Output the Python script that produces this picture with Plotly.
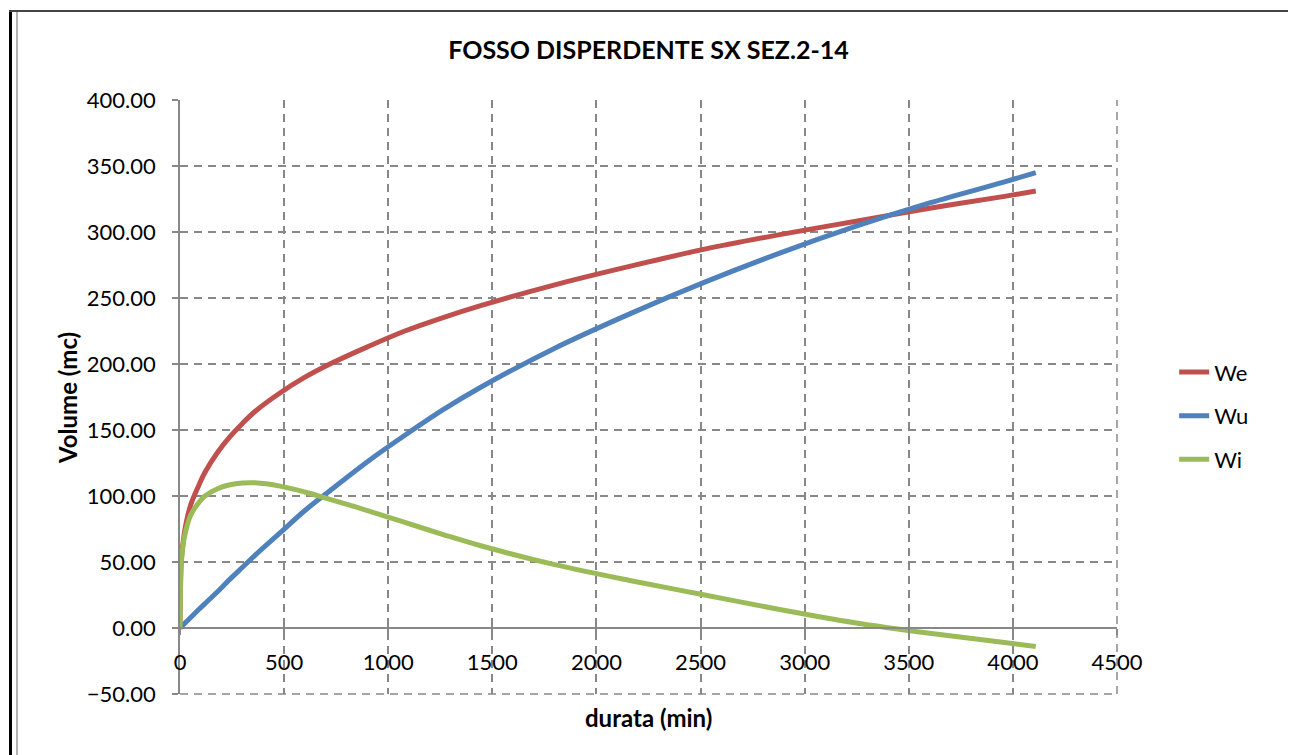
import plotly.graph_objects as go

# ---- data ----
durata = [0, 5, 10, 15, 20, 30, 45, 60, 90, 120, 180, 240, 300, 360, 480, 600, 720,
          900, 1080, 1260, 1440, 1800, 2160, 2520, 2880, 3240, 3600, 3960, 4110]
We = [0, 47, 58, 65, 71, 80, 90, 97, 108, 118, 133, 145, 155, 164, 178, 190, 200,
      213, 225, 235, 244, 260, 274, 287, 298, 308, 318, 327, 331]
Wu = [0, 0.8, 1.6, 2.3, 3.1, 4.7, 7, 9.3, 14, 18.5, 27.5, 37, 46, 55, 72, 89, 104,
      126, 146, 165, 182, 212, 238, 262, 284, 304, 322, 338, 345]
Wi = [0, 46, 56, 63, 68, 75, 83, 88, 95, 100, 105.5, 108.5, 109.8, 110, 107.5, 103, 97.5,
      89, 80, 71, 62.5, 48, 36, 25, 14, 4, -4, -11, -14]

series_names = ["We", "Wu", "Wi"]
series_values = [We, Wu, Wi]
series_colors = ["#C0504D", "#4F81BD", "#9BBB59"]

x_ticks = [0, 500, 1000, 1500, 2000, 2500, 3000, 3500, 4000, 4500]
y_ticks = [-50, 0, 50, 100, 150, 200, 250, 300, 350, 400]

title_text = "FOSSO DISPERDENTE SX SEZ.2-14"
x_title = "durata (min)"
y_title = "Volume (mc)"

FONT = "Lato, Carlito, Calibri, sans-serif"
GRID = "#888888"

# the page has an 8px body margin; the figure is sized to fit the window
W, H = 1288, 747
OFF = 8
PL, PR, PT, PB = 180, 1117, 100, 694   # plot area in window pixels


def px(x):
    return (x - PL) / (PR - PL)


def py(y):
    return (PB - y) / (PB - PT)


fig = go.Figure()
for name, vals, col in zip(series_names, series_values, series_colors):
    fig.add_trace(go.Scatter(x=durata, y=vals, name=name, mode="lines",
                             line=dict(color=col, width=5, shape="spline"),
                             legendgroup=name))
# invisible trace to carry the overlay axis (inner halves of the x tick marks)
fig.add_trace(go.Scatter(x=[None], y=[None], xaxis="x2", showlegend=False,
                         hoverinfo="skip"))

ymin, ymax = y_ticks[0], y_ticks[-1]
zero_pos = (0 - ymin) / (ymax - ymin)

fig.update_layout(
    width=W, height=H,
    paper_bgcolor="white", plot_bgcolor="white",
    margin=dict(l=PL - OFF, r=W - (PR - OFF), t=PT - OFF, b=H - (PB - OFF)),
    font=dict(family=FONT, size=22, color="#000000"),
    title=dict(text="<b>" + title_text + "</b>", x=0.5, xref="paper",
               y=1 - (50 - OFF) / H, yanchor="middle",
               font=dict(family=FONT, size=25, color="#000000")),
    showlegend=True,
    legend=dict(x=1.061, y=0.577, xanchor="left", yanchor="top",
                font=dict(family=FONT, size=22), tracegroupgap=12,
                bgcolor="rgba(0,0,0,0)"),
    xaxis=dict(range=[x_ticks[0], x_ticks[-1]], tickvals=x_ticks,
               ticktext=[str(v) for v in x_ticks],
               anchor="free", position=zero_pos,
               showline=True, linecolor=GRID, linewidth=1.5,
               ticks="outside", ticklen=6, tickwidth=1.5, tickcolor=GRID,
               ticklabelstandoff=9,
               showgrid=True, gridcolor=GRID, gridwidth=1.5, griddash="8px,6px",
               zeroline=False, tickfont=dict(size=22)),
    xaxis2=dict(range=[x_ticks[0], x_ticks[-1]], tickvals=x_ticks,
                overlaying="x", anchor="free", position=zero_pos,
                showline=False, ticks="inside", ticklen=6, tickwidth=1.5,
                tickcolor=GRID, showticklabels=False, showgrid=False,
                zeroline=False),
    yaxis=dict(range=[ymin, ymax], tickvals=y_ticks,
               tickformat=".2f",
               showline=True, linecolor=GRID, linewidth=1.5,
               ticks="outside", ticklen=6, tickwidth=1.5, tickcolor=GRID,
               ticklabelstandoff=12,
               showgrid=True, gridcolor=GRID, gridwidth=1.5, griddash="8px,6px",
               zeroline=True, zerolinecolor=GRID, zerolinewidth=1.5,
               tickfont=dict(size=22)),
)

# dashed grid lines on the plot-area edges that plotly leaves out
fig.add_shape(type="line", xref="x domain", yref="y domain",
              x0=1, x1=1, y0=0, y1=1, layer="below",
              line=dict(color=GRID, width=1.5, dash="8px,6px"))
fig.add_shape(type="line", xref="x domain", yref="y domain",
              x0=0, x1=1, y0=0, y1=0, layer="below",
              line=dict(color=GRID, width=1.5, dash="8px,6px"))

fig.add_annotation(text="<b>" + x_title + "</b>", xref="paper", yref="paper",
                   x=0.5, y=py(717), showarrow=False,
                   xanchor="center", yanchor="middle",
                   font=dict(family=FONT, size=24))
fig.add_annotation(text="<b>" + y_title + "</b>", xref="paper", yref="paper",
                   x=px(67), y=py(398), showarrow=False,
                   textangle=-90, xanchor="center", yanchor="middle",
                   font=dict(family=FONT, size=24))

# page frame lines
fig.add_shape(type="line", xref="paper", yref="paper",
              x0=px(10.5), x1=px(10.5), y0=py(10), y1=py(770),
              line=dict(color="black", width=3))
fig.add_shape(type="line", xref="paper", yref="paper",
              x0=px(9), x1=px(1293), y0=py(11), y1=py(11),
              line=dict(color="#444444", width=2))
fig.add_shape(type="line", xref="paper", yref="paper",
              x0=px(17), x1=px(17), y0=py(12), y1=py(770),
              line=dict(color="#999999", width=1.5))
fig.add_shape(type="line", xref="paper", yref="paper",
              x0=px(1294), x1=px(1294), y0=py(11), y1=py(770),
              line=dict(color="#777777", width=2))

fig.write_html("out.html")
